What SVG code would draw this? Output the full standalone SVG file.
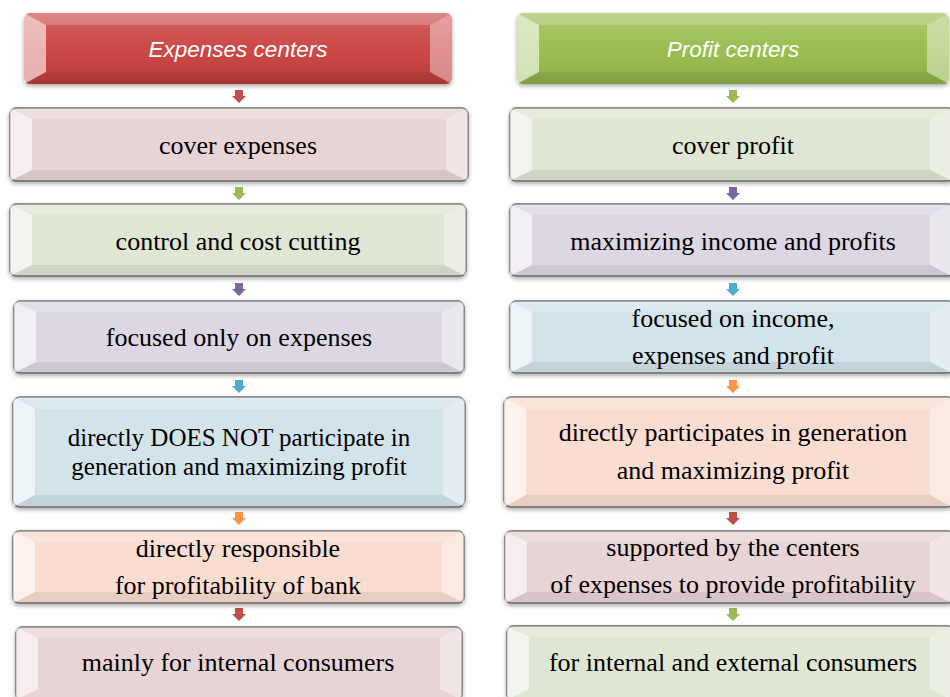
<svg xmlns="http://www.w3.org/2000/svg" width="950" height="697" viewBox="0 0 950 697">
<defs>
<filter id="sh" x="-5%" y="-20%" width="110%" height="150%">
<feDropShadow dx="0" dy="2" stdDeviation="2" flood-color="#000" flood-opacity="0.35"/>
</filter>
<linearGradient id="gloss" x1="0" y1="0" x2="0" y2="1">
<stop offset="0" stop-color="#fff" stop-opacity="0.18"/>
<stop offset="0.5" stop-color="#fff" stop-opacity="0.05"/>
<stop offset="1" stop-color="#000" stop-opacity="0.08"/>
</linearGradient>
<style>
.box{stroke:#6f6f6f;stroke-width:1.5;filter:url(#sh)}
.hdr{stroke:none;filter:url(#sh)}
.red{fill:#c9403e}
.grn{fill:#97bb4c}
.pink{fill:#e8d4d4}
.lgrn{fill:#dfe6d3}
.lav{fill:#dcd7e3}
.lblu{fill:#d3e3ea}
.peach{fill:#f9ddd1}
.bl{fill:#fff;opacity:0.6}
.bt{fill:#fff;opacity:0.22}
.br{fill:#fff;opacity:0.4}
.bb{fill:#000;opacity:0.07}
.t{font-family:"Liberation Serif","Times New Roman",serif;font-size:26px;fill:#000;text-anchor:middle}
.t2{font-size:25px}
.h{font-family:"Liberation Sans",Arial,sans-serif;font-style:italic;font-size:22.5px;fill:#fff;text-anchor:middle}
.a-red{fill:#c0504d}
.a-grn{fill:#9bbb59}
.a-pur{fill:#8064a2}
.a-cyn{fill:#4bacc6}
.a-org{fill:#f79646}
</style>
</defs>
<rect width="950" height="697" fill="#fff"/>

<!-- connectors -->
<g id="connectors">
<path class="a-red" d="M235 90h8v6h3l-7 7l-7-7h3z"/>
<path class="a-grn" d="M235 187h8v6h3l-7 7l-7-7h3z"/>
<path class="a-pur" d="M235 283h8v6h3l-7 7l-7-7h3z"/>
<path class="a-cyn" d="M235 380h8v6h3l-7 7l-7-7h3z"/>
<path class="a-org" d="M235 512h8v6h3l-7 7l-7-7h3z"/>
<path class="a-red" d="M235 608h8v6h3l-7 7l-7-7h3z"/>
<path class="a-grn" d="M729 90h8v6h3l-7 7l-7-7h3z"/>
<path class="a-pur" d="M729 187h8v6h3l-7 7l-7-7h3z"/>
<path class="a-cyn" d="M729 283h8v6h3l-7 7l-7-7h3z"/>
<path class="a-org" d="M729 380h8v6h3l-7 7l-7-7h3z"/>
<path class="a-red" d="M729 512h8v6h3l-7 7l-7-7h3z"/>
<path class="a-grn" d="M729 608h8v6h3l-7 7l-7-7h3z"/>
</g>

<!-- left column -->
<g id="hdr-expenses">
<rect class="hdr red" x="24" y="13" width="428" height="71" rx="6"/>
<rect x="24" y="13" width="428" height="71" rx="6" fill="url(#gloss)"/>
<polygon class="bl" points="24,13 46,25 46,72 24,84" opacity="0.3"/>
<polygon class="bt" points="24,13 452,13 430,25 46,25"/>
<polygon class="br" points="452,13 430,25 430,72 452,84" opacity="0.3"/>
<polygon class="bb" points="24,84 46,72 430,72 452,84"/>
<text class="h" x="238" y="57">Expenses centers</text>
</g>
<g id="l1">
<rect class="box pink" x="10" y="108" width="458" height="73" rx="6"/>
<polygon class="bl" points="10,108 32,119 32,170 10,181"/>
<polygon class="bt" points="10,108 468,108 446,119 32,119"/>
<polygon class="br" points="468,108 446,119 446,170 468,181"/>
<polygon class="bb" points="10,181 32,170 446,170 468,181"/>
<text class="t" x="238" y="154">cover expenses</text>
</g>
<g id="l2">
<rect class="box lgrn" x="10" y="204" width="456" height="72" rx="6"/>
<polygon class="bl" points="10,204 32,215 32,265 10,276"/>
<polygon class="bt" points="10,204 466,204 444,215 32,215"/>
<polygon class="br" points="466,204 444,215 444,265 466,276"/>
<polygon class="bb" points="10,276 32,265 444,265 466,276"/>
<text class="t" x="238" y="250">control and cost cutting</text>
</g>
<g id="l3">
<rect class="box lav" x="14" y="301" width="450" height="72" rx="6"/>
<polygon class="bl" points="14,301 36,312 36,362 14,373"/>
<polygon class="bt" points="14,301 464,301 442,312 36,312"/>
<polygon class="br" points="464,301 442,312 442,362 464,373"/>
<polygon class="bb" points="14,373 36,362 442,362 464,373"/>
<text class="t" x="239" y="346">focused only on expenses</text>
</g>
<g id="l4">
<rect class="box lblu" x="13" y="397" width="452" height="110" rx="7"/>
<polygon class="bl" points="13,397 35,409 35,495 13,507"/>
<polygon class="bt" points="13,397 465,397 443,409 35,409"/>
<polygon class="br" points="465,397 443,409 443,495 465,507"/>
<polygon class="bb" points="13,507 35,495 443,495 465,507"/>
<text class="t t2" x="239" y="446">directly DOES NOT participate in</text>
<text class="t t2" x="239" y="475">generation and maximizing profit</text>
</g>
<g id="l5">
<rect class="box peach" x="13" y="531" width="451" height="72" rx="6"/>
<polygon class="bl" points="13,531 35,542 35,592 13,603"/>
<polygon class="bt" points="13,531 464,531 442,542 35,542"/>
<polygon class="br" points="464,531 442,542 442,592 464,603"/>
<polygon class="bb" points="13,603 35,592 442,592 464,603"/>
<text class="t" x="238" y="557">directly responsible</text>
<text class="t" x="238" y="594">for profitability of bank</text>
</g>
<g id="l6">
<rect class="box pink" x="16" y="627" width="446" height="73" rx="6"/>
<polygon class="bl" points="16,627 38,638 38,689 16,700"/>
<polygon class="bt" points="16,627 462,627 440,638 38,638"/>
<polygon class="br" points="462,627 440,638 440,689 462,700"/>
<text class="t" x="238" y="671">mainly for internal consumers</text>
</g>

<!-- right column -->
<g id="hdr-profit">
<rect class="hdr grn" x="517" y="13" width="432" height="71" rx="6"/>
<rect x="517" y="13" width="432" height="71" rx="6" fill="url(#gloss)"/>
<polygon class="bl" points="517,13 539,25 539,72 517,84" opacity="0.35"/>
<polygon class="bt" points="517,13 949,13 927,25 539,25"/>
<polygon class="br" points="949,13 927,25 927,72 949,84" opacity="0.35"/>
<polygon class="bb" points="517,84 539,72 927,72 949,84"/>
<text class="h" x="733" y="57">Profit centers</text>
</g>
<g id="r1">
<rect class="box lgrn" x="510" y="108" width="444" height="73" rx="6"/>
<polygon class="bl" points="510,108 532,119 532,170 510,181"/>
<polygon class="bt" points="510,108 952,108 930,119 532,119"/>
<polygon class="br" points="952,108 930,119 930,170 952,181"/>
<polygon class="bb" points="510,181 532,170 930,170 952,181"/>
<text class="t" x="733" y="154">cover profit</text>
</g>
<g id="r2">
<rect class="box lav" x="510" y="204" width="444" height="72" rx="6"/>
<polygon class="bl" points="510,204 532,215 532,265 510,276"/>
<polygon class="bt" points="510,204 952,204 930,215 532,215"/>
<polygon class="br" points="952,204 930,215 930,265 952,276"/>
<polygon class="bb" points="510,276 532,265 930,265 952,276"/>
<text class="t" x="733" y="250">maximizing income and profits</text>
</g>
<g id="r3">
<rect class="box lblu" x="510" y="301" width="444" height="72" rx="6"/>
<polygon class="bl" points="510,301 532,312 532,362 510,373"/>
<polygon class="bt" points="510,301 952,301 930,312 532,312"/>
<polygon class="br" points="952,301 930,312 930,362 952,373"/>
<polygon class="bb" points="510,373 532,362 930,362 952,373"/>
<text class="t" x="733" y="327">focused on income,</text>
<text class="t" x="733" y="364">expenses and profit</text>
</g>
<g id="r4">
<rect class="box peach" x="504" y="397" width="450" height="110" rx="7"/>
<polygon class="bl" points="504,397 526,409 526,495 504,507"/>
<polygon class="bt" points="504,397 952,397 930,409 526,409"/>
<polygon class="br" points="952,397 930,409 930,495 952,507"/>
<polygon class="bb" points="504,507 526,495 930,495 952,507"/>
<text class="t" x="733" y="441">directly participates in generation</text>
<text class="t" x="733" y="479">and maximizing profit</text>
</g>
<g id="r5">
<rect class="box pink" x="505" y="531" width="449" height="72" rx="6"/>
<polygon class="bl" points="505,531 527,542 527,592 505,603"/>
<polygon class="bt" points="505,531 952,531 930,542 527,542"/>
<polygon class="br" points="952,531 930,542 930,592 952,603"/>
<polygon class="bb" points="505,603 527,592 930,592 952,603"/>
<text class="t" x="733" y="556">supported by the centers</text>
<text class="t" x="733" y="593">of expenses to provide profitability</text>
</g>
<g id="r6">
<rect class="box lgrn" x="507" y="626" width="447" height="74" rx="6"/>
<polygon class="bl" points="507,626 529,637 529,689 507,700"/>
<polygon class="bt" points="507,626 952,626 930,637 529,637"/>
<polygon class="br" points="952,626 930,637 930,689 952,700"/>
<text class="t" x="733" y="671">for internal and external consumers</text>
</g>
</svg>
